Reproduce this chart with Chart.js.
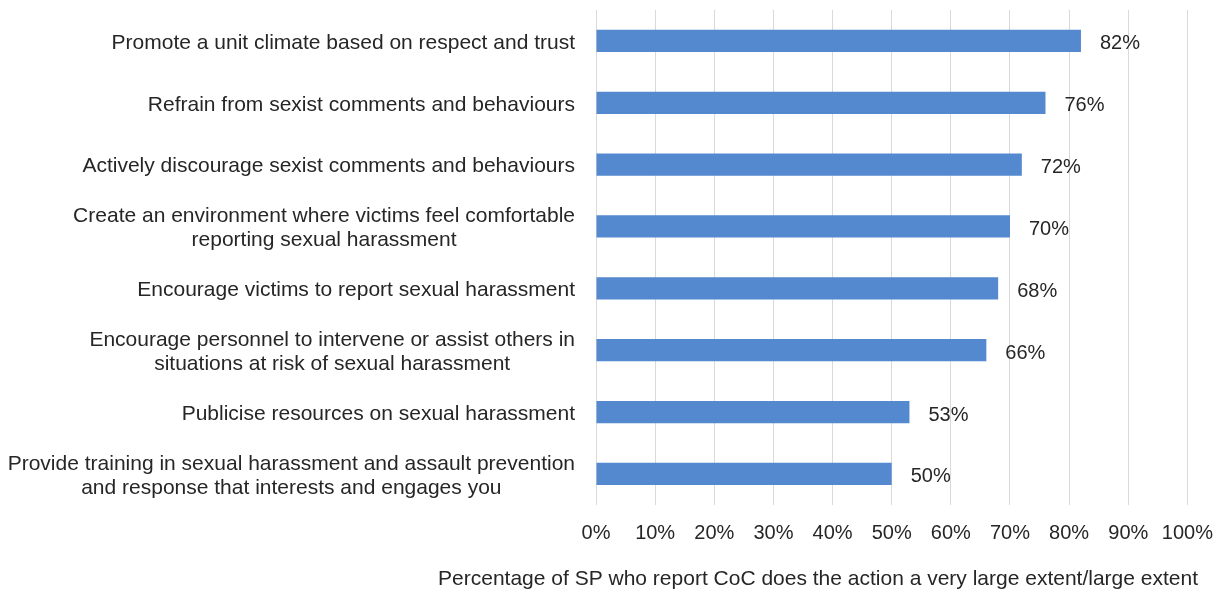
<!DOCTYPE html>
<html>
<head>
<meta charset="utf-8">
<script src="https://cdn.jsdelivr.net/npm/chart.js@4/dist/chart.umd.min.js"></script>
<style>
  html, body { margin: 0; padding: 0; background: #fff; }
  #wrap { width: 1218px; height: 592px; }
</style>
</head>
<body>
<div id="wrap"><canvas id="actionsChart" width="1218" height="592"></canvas></div>
<script>
// Actions reported, each label split into its printed lines
const actions = [
    ['Promote a unit climate based on respect and trust'],
    ['Refrain from sexist comments and behaviours'],
    ['Actively discourage sexist comments and behaviours'],
    ['Create an environment where victims feel comfortable', 'reporting sexual harassment'],
    ['Encourage victims to report sexual harassment'],
    ['Encourage personnel to intervene or assist others in', 'situations at risk of sexual harassment'],
    ['Publicise resources on sexual harassment'],
    ['Provide training in sexual harassment and assault prevention', 'and response that interests and engages you']
];
const percentages = [82, 76, 72, 70, 68, 66, 53, 50];
const xTicks = [0, 10, 20, 30, 40, 50, 60, 70, 80, 90, 100];
const axisTitle = 'Percentage of SP who report CoC does the action a very large extent/large extent';

const FONT = 'Liberation Sans, Arial, sans-serif';
const TEXT_COLOR = '#262626';

// left-hand labels: block right-aligned next to the axis, lines centred within the block
const categoryLabels = {
    id: 'categoryLabels',
    afterDraw(chart) {
        const ctx = chart.ctx;
        const yScale = chart.scales.y;
        const rightEdge = chart.chartArea.left - 21;
        const lineH = 24;
        ctx.save();
        ctx.font = '21px ' + FONT;
        ctx.fillStyle = TEXT_COLOR;
        ctx.textAlign = 'center';
        ctx.textBaseline = 'middle';
        actions.forEach((lines, i) => {
            const widest = Math.max(...lines.map(l => ctx.measureText(l).width));
            const cx = rightEdge - widest / 2;
            const cy = yScale.getPixelForValue(i) + 2;
            const start = cy - (lines.length - 1) * lineH / 2;
            lines.forEach((l, j) => ctx.fillText(l, cx, start + j * lineH));
        });
        ctx.restore();
    }
};

// value labels to the right of each bar
const valueLabels = {
    id: 'valueLabels',
    afterDatasetsDraw(chart) {
        const ctx = chart.ctx;
        const meta = chart.getDatasetMeta(0);
        ctx.save();
        ctx.font = '20px ' + FONT;
        ctx.fillStyle = TEXT_COLOR;
        ctx.textAlign = 'left';
        ctx.textBaseline = 'middle';
        meta.data.forEach((bar, i) => {
            ctx.fillText(percentages[i] + '%', bar.x + 19, bar.y + 3);
        });
        ctx.restore();
    }
};

new Chart(document.getElementById('actionsChart'), {
    type: 'bar',
    data: {
        labels: actions.map(a => a.join(' ')),
        datasets: [{
            data: percentages,
            backgroundColor: '#5589cf',
            borderWidth: 0,
            barPercentage: 0.36,
            categoryPercentage: 1
        }]
    },
    options: {
        indexAxis: 'y',
        responsive: false,
        animation: false,
        devicePixelRatio: 1,
        layout: { padding: { top: 10, right: 20, bottom: 0, left: 0 } },
        plugins: {
            legend: { display: false },
            tooltip: { enabled: false },
            // axis caption, right-aligned under the plot
            title: {
                display: true,
                position: 'bottom',
                align: 'end',
                text: axisTitle,
                font: { family: FONT, size: 21, weight: 'normal' },
                color: TEXT_COLOR,
                padding: { top: 16, bottom: 0 }
            }
        },
        scales: {
            x: {
                min: 0,
                max: 100,
                afterBuildTicks: scale => { scale.ticks = xTicks.map(v => ({ value: v })); },
                ticks: {
                    callback: v => v + '%',
                    font: { family: FONT, size: 20 },
                    color: TEXT_COLOR,
                    padding: 5,
                    maxRotation: 0
                },
                // invisible tick marks keep the gap between the gridlines and the tick labels
                grid: { color: '#d9d9d9', drawTicks: true, tickLength: 12, tickColor: 'rgba(0,0,0,0)' },
                border: { display: false }
            },
            y: {
                ticks: { display: false },
                grid: { display: false },
                border: { display: false },
                afterFit: scale => { scale.width = 596; }
            }
        }
    },
    plugins: [categoryLabels, valueLabels]
});
</script>
</body>
</html>
